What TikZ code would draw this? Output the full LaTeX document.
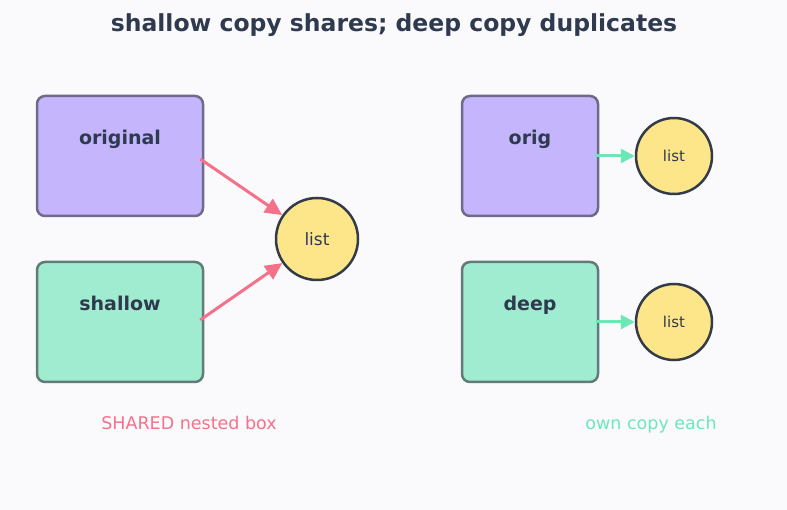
\documentclass[tikz,border=0pt]{standalone}
\usepackage{fontspec}
\setmainfont{DejaVu Sans}
\usetikzlibrary{arrows.meta}
\definecolor{bgcol}{HTML}{FAFAFD}
\definecolor{inkcol}{HTML}{2F3A4E}
\definecolor{violetcol}{HTML}{C4B5FD}
\definecolor{violetedge}{HTML}{6E6B8A}
\definecolor{mintcol}{HTML}{A0ECD0}
\definecolor{mintedge}{HTML}{627A79}
\definecolor{listcol}{HTML}{FDE68A}
\definecolor{listedge}{HTML}{343B48}
\definecolor{sharecol}{HTML}{F47289}
\definecolor{owncol}{HTML}{6EE7B7}
\begin{document}
\begin{tikzpicture}[x=1pt, y=-1pt,
    objbox/.style={draw, line width=2.5pt, rounded corners=8pt, inner sep=0pt},
    boxtext/.style={anchor=base, text=inkcol, font={\fontsize{19}{22}\selectfont\bfseries}},
    listnode/.style={circle, draw=listedge, fill=listcol, line width=2.5pt, inner sep=0pt, text=inkcol},
    ptr/.style={line width=3pt, -{Triangle[length=17pt, width=16pt]}},
  ]
  \useasboundingbox[fill=bgcol] (0,0) rectangle (787,510);
  \node[anchor=base, text=inkcol, font={\fontsize{23.5}{28}\selectfont\bfseries}] (title) at (394,32) {shallow copy shares; deep copy duplicates};
  % boxes, left side
  \foreach \name/\txt/\fillc/\edgec/\y in {original/original/violetcol/violetedge/156,shallow/shallow/mintcol/mintedge/322} {
    \node[objbox, fill=\fillc, draw=\edgec, minimum width=166pt, minimum height=120pt] (\name) at (120,\y) {};
    \node[boxtext] (\name txt) at ([yshift=-50pt]\name.north) {\txt};
  }
  % boxes, right side
  \foreach \name/\txt/\fillc/\edgec/\y in {orig/orig/violetcol/violetedge/156,deep/deep/mintcol/mintedge/322} {
    \node[objbox, fill=\fillc, draw=\edgec, minimum width=136pt, minimum height=120pt] (\name) at (530,\y) {};
    \node[boxtext] (\name txt) at ([yshift=-50pt]\name.north) {\txt};
    \node[listnode, minimum size=76pt, font={\fontsize{15}{18}\selectfont}] (\name list) at (674,\y) {list};
    \draw[ptr, owncol, -{Triangle[length=14pt, width=14pt]}] ([xshift=-3pt]\name.east) -- (\name list);
  }
  % shared list
  \node[listnode, minimum size=82pt, font={\fontsize{17}{20}\selectfont}] (shared) at (317,239) {list};
  \draw[ptr, sharecol] ([xshift=-4pt, yshift=-3pt]original.east) -- (shared);
  \draw[ptr, sharecol] ([xshift=-4pt, yshift=2pt]shallow.east) -- (shared);
  % captions
  \node[anchor=base, text=sharecol, font={\fontsize{17.5}{20}\selectfont}] (sharednote) at (189,429) {SHARED nested box};
  \node[anchor=base, text=owncol, font={\fontsize{17.5}{20}\selectfont}] (ownnote) at (651,429) {own copy each};
\end{tikzpicture}
\end{document}
